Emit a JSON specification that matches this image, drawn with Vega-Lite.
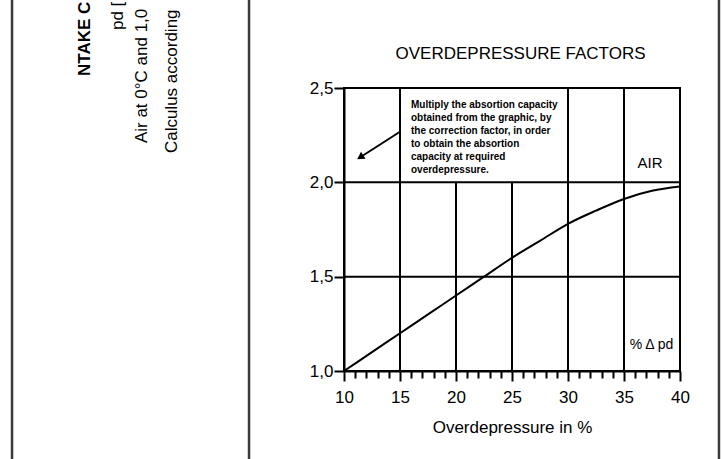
{
  "$schema": "https://vega.github.io/schema/vega-lite/v6.json",
  "width": 336,
  "height": 283,
  "autosize": {"type": "none"},
  "padding": {"left": 344, "top": 88, "right": 42, "bottom": 88},
  "background": "white",
  "config": {
    "view": {"stroke": "black", "strokeWidth": 2},
    "font": "Liberation Sans",
    "text": {"font": "Liberation Sans", "color": "black"}
  },
  "encoding": {
    "x": {
      "field": "x", "type": "quantitative",
      "scale": {"domain": [10, 40], "nice": false, "zero": false},
      "axis": {
        "title": "Overdepressure in %",
        "values": [10,11,12,13,14,15,16,17,18,19,20,21,22,23,24,25,26,27,28,29,30,31,32,33,34,35,36,37,38,39,40],
        "labelExpr": "datum.value % 5 === 0 ? datum.label : ''",
        "tickSize": {"condition": {"test": "datum.value % 5 === 0", "value": 10}, "value": 7},
        "tickColor": "black", "tickWidth": 2,
        "domainColor": "black", "domainWidth": 2,
        "grid": false,
        "labelFontSize": 17, "labelColor": "black", "labelFont": "Liberation Sans",
        "labelPadding": 8, "labelFlush": false, "labelOverlap": false,
        "titleFontSize": 17, "titleFontWeight": "normal", "titleColor": "black", "titleFont": "Liberation Sans",
        "titlePadding": 14
      }
    },
    "y": {
      "field": "y", "type": "quantitative",
      "scale": {"domain": [1, 2.5], "nice": false, "zero": false},
      "axis": {
        "title": null,
        "values": [1, 1.5, 2, 2.5],
        "labelExpr": "replace(format(datum.value, '.1f'), '.', ',')",
        "tickSize": 10, "tickColor": "black", "tickWidth": 2,
        "domainColor": "black", "domainWidth": 2,
        "grid": false,
        "labelFontSize": 17, "labelColor": "black", "labelFont": "Liberation Sans",
        "labelPadding": 1, "labelFlush": false, "labelOverlap": false
      }
    }
  },
  "layer": [
    {
      "data": {"values": [{"x": -19.64, "y": 3.0, "y2": 0.5}, {"x": 1.52, "y": 3.0, "y2": 0.5}, {"x": 43.48, "y": 3.0, "y2": 0.5}]},
      "mark": {"type": "rule", "color": "#3a3a3a", "strokeWidth": 2.5, "clip": false},
      "encoding": {"y2": {"field": "y2"}}
    },
    {
      "data": {"values": [{"x": 25.76, "y": 2.654, "label": "OVERDEPRESSURE FACTORS"}]},
      "mark": {"type": "text", "align": "center", "baseline": "alphabetic", "fontSize": 17},
      "encoding": {"text": {"field": "label"}}
    },
    {
      "data": {"values": [{"x": -13.13, "y": 2.564, "label": "NTAKE C"}]},
      "mark": {"type": "text", "angle": 270, "align": "left", "baseline": "middle", "fontSize": 17, "fontWeight": "bold"},
      "encoding": {"text": {"field": "label"}}
    },
    {
      "data": {"values": [
        {"x": -10.18, "y": 2.807, "label": "pd ["},
        {"x": -8.04, "y": 2.208, "label": "Air at 0°C and 1,0"},
        {"x": -5.36, "y": 2.155, "label": "Calculus according"}
      ]},
      "mark": {"type": "text", "angle": 270, "align": "left", "baseline": "middle", "fontSize": 17},
      "encoding": {"text": {"field": "label"}}
    },
    {
      "data": {"values": [
        {"x": 15, "y": 1.0, "y2": 2.5},
        {"x": 20, "y": 1.0, "y2": 2.0},
        {"x": 25, "y": 1.0, "y2": 2.0},
        {"x": 30, "y": 1.0, "y2": 2.5},
        {"x": 35, "y": 1.0, "y2": 2.5}
      ]},
      "mark": {"type": "rule", "color": "black", "strokeWidth": 2},
      "encoding": {"y2": {"field": "y2"}}
    },
    {
      "data": {"values": [{"x": 10, "x2": 40, "y": 1.5}, {"x": 10, "x2": 40, "y": 2.0}]},
      "mark": {"type": "rule", "color": "black", "strokeWidth": 2},
      "encoding": {"x2": {"field": "x2"}}
    },
    {
      "data": {"values": [
        {"x": 10, "y": 1.0}, {"x": 12.5, "y": 1.1}, {"x": 15, "y": 1.2}, {"x": 17.5, "y": 1.3},
        {"x": 20, "y": 1.4}, {"x": 22.5, "y": 1.5}, {"x": 25, "y": 1.6}, {"x": 27.5, "y": 1.69},
        {"x": 30, "y": 1.78}, {"x": 32.5, "y": 1.85}, {"x": 35, "y": 1.912}, {"x": 37.5, "y": 1.955},
        {"x": 40, "y": 1.978}
      ]},
      "mark": {"type": "line", "color": "black", "strokeWidth": 2, "interpolate": "monotone"}
    },
    {
      "data": {"values": [
        {"x": 15.98, "y": 2.41, "label": "Multiply the absortion capacity"},
        {"x": 15.98, "y": 2.341, "label": "obtained from the graphic, by"},
        {"x": 15.98, "y": 2.272, "label": "the correction factor, in order"},
        {"x": 15.98, "y": 2.203, "label": "to obtain the absortion"},
        {"x": 15.98, "y": 2.134, "label": "capacity at required"},
        {"x": 15.98, "y": 2.066, "label": "overdepressure."}
      ]},
      "mark": {"type": "text", "align": "left", "baseline": "middle", "fontSize": 10, "fontWeight": "bold"},
      "encoding": {"text": {"field": "label"}}
    },
    {
      "data": {"values": [{"x": 15, "y": 2.268, "x2": 11.45, "y2": 2.133}]},
      "mark": {"type": "rule", "color": "black", "strokeWidth": 2},
      "encoding": {"x2": {"field": "x2"}, "y2": {"field": "y2"}}
    },
    {
      "data": {"values": [{"x": 11.45, "y": 2.133}]},
      "mark": {"type": "point", "shape": "triangle-up", "filled": true, "color": "black", "opacity": 1, "size": 70, "angle": 237}
    },
    {
      "data": {"values": [{"x": 37.32, "y": 2.104, "label": "AIR"}]},
      "mark": {"type": "text", "align": "center", "baseline": "middle", "fontSize": 15},
      "encoding": {"text": {"field": "label"}}
    },
    {
      "data": {"values": [{"x": 37.46, "y": 1.138, "label": "% Δ pd"}]},
      "mark": {"type": "text", "align": "center", "baseline": "middle", "fontSize": 14},
      "encoding": {"text": {"field": "label"}}
    }
  ]
}
